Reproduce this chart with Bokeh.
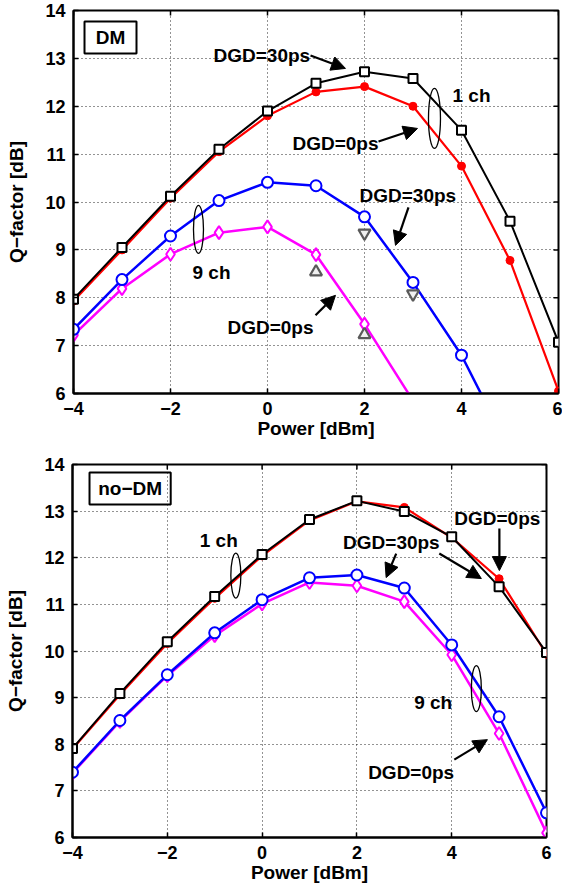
import math
from bokeh.plotting import figure
from bokeh.models import (Arrow, NormalHead, Label, BoxAnnotation, FixedTicker, Range1d)
from bokeh.embed import file_html
from bokeh.resources import INLINE

NAN = float("nan")
FONT = "Liberation Sans"

# ---------------- data ----------------
power = [-4, -3, -2, -1, 0, 1, 2, 3, 4, 5, 6]
x_ticks = [-4, -2, 0, 2, 4, 6]
x_tick_labels = ["\u22124", "\u22122", "0", "2", "4", "6"]
y_ticks = [6, 7, 8, 9, 10, 11, 12, 13, 14]
x_min, x_max, y_min, y_max = -4, 6, 6, 14

# DM panel
dm_1ch_dgd30 = [7.97, 9.05, 10.12, 11.10, 11.90, 12.48, 12.72, 12.58, 11.50, 9.60, 7.07]
dm_1ch_dgd0 = [7.93, 9.00, 10.08, 11.05, 11.80, 12.30, 12.41, 12.00, 10.75, 8.78, 6.05]
dm_9ch_dgd30 = [7.34, 8.38, 9.29, 10.03, 10.41, 10.34, 9.69, 8.32, 6.80, 4.80, NAN]
dm_9ch_dgd0 = [7.22, 8.19, 8.91, 9.36, 9.48, 8.90, 7.45, 5.85, NAN, NAN, NAN]
dm_tri_down_x = [2, 3]
dm_tri_down_y = [9.35, 8.08]
dm_tri_up_x = [1, 2]
dm_tri_up_y = [8.54, 7.23]

# no-DM panel
nodm_1ch_dgd30 = [7.91, 9.09, 10.20, 11.17, 12.07, 12.82, 13.22, 12.99, 12.45, 11.38, 9.97]
nodm_1ch_dgd0 = [7.90, 9.06, 10.16, 11.13, 12.04, 12.80, 13.21, 13.08, 12.43, 11.55, 9.93]
nodm_9ch_dgd30 = [7.40, 8.51, 9.49, 10.39, 11.10, 11.57, 11.63, 11.35, 10.13, 8.59, 6.53]
nodm_9ch_dgd0 = [7.38, 8.49, 9.47, 10.33, 11.01, 11.47, 11.40, 11.06, 9.92, 8.23, 6.10]

# annotations: (text, x_left, y_center)
dm_labels = [("DGD=30ps", -1.113, 13.06), ("1 ch", 3.814, 12.225),
             ("DGD=0ps", 0.515, 11.22), ("DGD=30ps", 1.897, 10.138),
             ("9 ch", -1.546, 8.53), ("DGD=0ps", -0.825, 7.382)]
dm_arrows = [(0.887, 13.06, 1.608, 12.79), (2.289, 11.265, 3.093, 11.536),
             (2.907, 9.887, 2.639, 9.094), (0.99, 7.633, 1.402, 8.05)]
dm_ellipses = [(3.443, 11.745, 12, 60), (-1.423, 9.428, 10, 48)]
dm_box = ("DM", -3.773, -2.701, 13.77, 13.10)

nodm_labels = [("1 ch", -1.315, 12.369), ("DGD=0ps", 4.055, 12.841),
               ("DGD=30ps", 1.708, 12.326), ("9 ch", 3.209, 8.893),
               ("DGD=0ps", 2.237, 7.39)]
nodm_arrows = [(5.006, 12.627, 5.006, 11.725), (2.829, 12.09, 2.617, 11.575),
               (3.738, 12.09, 4.626, 11.554), (4.055, 7.67, 4.753, 8.099)]
nodm_ellipses = [(-0.554, 11.618, 10, 45), (4.52, 9.193, 10, 46)]
nodm_box = ("no\u2212DM", -3.641, -1.928, 13.828, 13.142)


def make_panel(height, borders, series, tri, labels, arrows, ellipses, box):
    bl, br, bt, bb = borders
    p = figure(width=562, height=height, output_backend="svg", toolbar_location=None,
               x_range=Range1d(x_min, x_max), y_range=Range1d(y_min, y_max),
               min_border_left=bl, min_border_right=br, min_border_top=bt,
               min_border_bottom=bb)
    p.background_fill_color = "white"
    p.border_fill_color = "white"
    p.outline_line_color = "black"
    p.outline_line_width = 2

    for ax in (p.xaxis[0], p.yaxis[0]):
        ax.axis_line_width = 2
        ax.major_tick_in = 5
        ax.major_tick_out = 0
        ax.minor_tick_line_color = None
        ax.major_tick_line_width = 1.5
        ax.major_label_text_font = FONT
        ax.major_label_text_font_style = "bold"
        ax.major_label_text_font_size = "18px"
        ax.major_label_text_color = "black"
        ax.axis_label_text_font = FONT
        ax.axis_label_text_font_style = "bold"
        ax.axis_label_text_font_size = "19px"
        ax.axis_label_text_color = "black"
    p.xaxis[0].ticker = FixedTicker(ticks=x_ticks)
    p.xaxis[0].major_label_overrides = {t: l for t, l in zip(x_ticks, x_tick_labels)}
    p.yaxis[0].ticker = FixedTicker(ticks=y_ticks)
    p.xaxis[0].axis_label = "Power [dBm]"
    p.yaxis[0].axis_label = "Q\u2212factor [dB]"
    p.xaxis[0].major_label_standoff = 8
    p.yaxis[0].major_label_standoff = 8
    p.xaxis[0].axis_label_standoff = 0
    p.yaxis[0].axis_label_standoff = 15

    for g in (p.xgrid[0], p.ygrid[0]):
        g.grid_line_color = "black"
        g.grid_line_dash = "1 3"
        g.grid_line_width = 1
        g.grid_line_alpha = 0.85
    p.xgrid[0].ticker = FixedTicker(ticks=x_ticks)
    p.ygrid[0].ticker = FixedTicker(ticks=y_ticks)

    # inward ticks on the top and right box edges (half of each dash is clipped)
    p.scatter(x_ticks, [y_max] * len(x_ticks), marker="dash", angle=math.pi / 2,
              size=10, line_color="black", line_width=1.5)
    p.scatter([x_max] * len(y_ticks), y_ticks, marker="dash",
              size=10, line_color="black", line_width=1.5)

    # series: (values, color, marker, size, line_width, fill)
    for vals, color, marker, size, lw, fill in series:
        p.line(power, vals, line_color=color, line_width=lw)
        p.scatter(power, vals, marker=marker, size=size, line_color=color,
                  line_width=2 if fill == "white" else 1, fill_color=fill)

    for xs, ys, marker in tri:
        p.scatter(xs, ys, marker=marker, size=12, line_color="#5a5a5a",
                  line_width=2.2, fill_color="#f0f0f0")

    for (x, y, w, h) in ellipses:
        p.ellipse(x=[x], y=[y], width=[w], height=[h], width_units="screen",
                  height_units="screen", fill_alpha=0, line_color="black", line_width=1.3)

    for (x0, y0, x1, y1) in arrows:
        p.add_layout(Arrow(end=NormalHead(size=14, fill_color="black", line_color="black"),
                           x_start=x0, y_start=y0, x_end=x1, y_end=y1,
                           line_color="black", line_width=2.2))

    for (t, x, y) in labels:
        p.add_layout(Label(x=x, y=y, text=t, text_align="left", text_baseline="middle",
                           text_font=FONT, text_font_style="bold", text_font_size="19px",
                           text_color="black"))

    t, l, r, top, bot = box
    p.add_layout(BoxAnnotation(left=l, right=r, top=top, bottom=bot, fill_alpha=0,
                               line_color="black", line_alpha=1.0, line_width=2))
    p.add_layout(Label(x=(l + r) / 2, y=(top + bot) / 2, text=t, text_align="center",
                       text_baseline="middle", text_font=FONT, text_font_style="bold",
                       text_font_size="19px", text_color="black"))
    return p


dm_series = [
    (dm_9ch_dgd0, "#ff00ff", "diamond", 13, 2.5, "white"),
    (dm_9ch_dgd30, "#0000ff", "circle", 11, 2.5, "white"),
    (dm_1ch_dgd0, "#ff0000", "circle", 8, 2.2, "#ff0000"),
    (dm_1ch_dgd30, "#000000", "square", 9, 2.0, "white"),
]
nodm_series = [
    (nodm_9ch_dgd0, "#ff00ff", "diamond", 13, 2.5, "white"),
    (nodm_9ch_dgd30, "#0000ff", "circle", 11, 2.5, "white"),
    (nodm_1ch_dgd0, "#ff0000", "circle", 8, 2.2, "#ff0000"),
    (nodm_1ch_dgd30, "#000000", "square", 9, 2.0, "white"),
]

p1 = make_panel(448, (73, 4, 10, 55), dm_series,
                [(dm_tri_down_x, dm_tri_down_y, "inverted_triangle"),
                 (dm_tri_up_x, dm_tri_up_y, "triangle")],
                dm_labels, dm_arrows, dm_ellipses, dm_box)
p2 = make_panel(447, (72, 16, 16, 58), nodm_series, [],
                nodm_labels, nodm_arrows, nodm_ellipses, nodm_box)

# two independent roots stacked vertically, so each keeps its own frame
open("out.html", "w").write(file_html([p1, p2], INLINE))
